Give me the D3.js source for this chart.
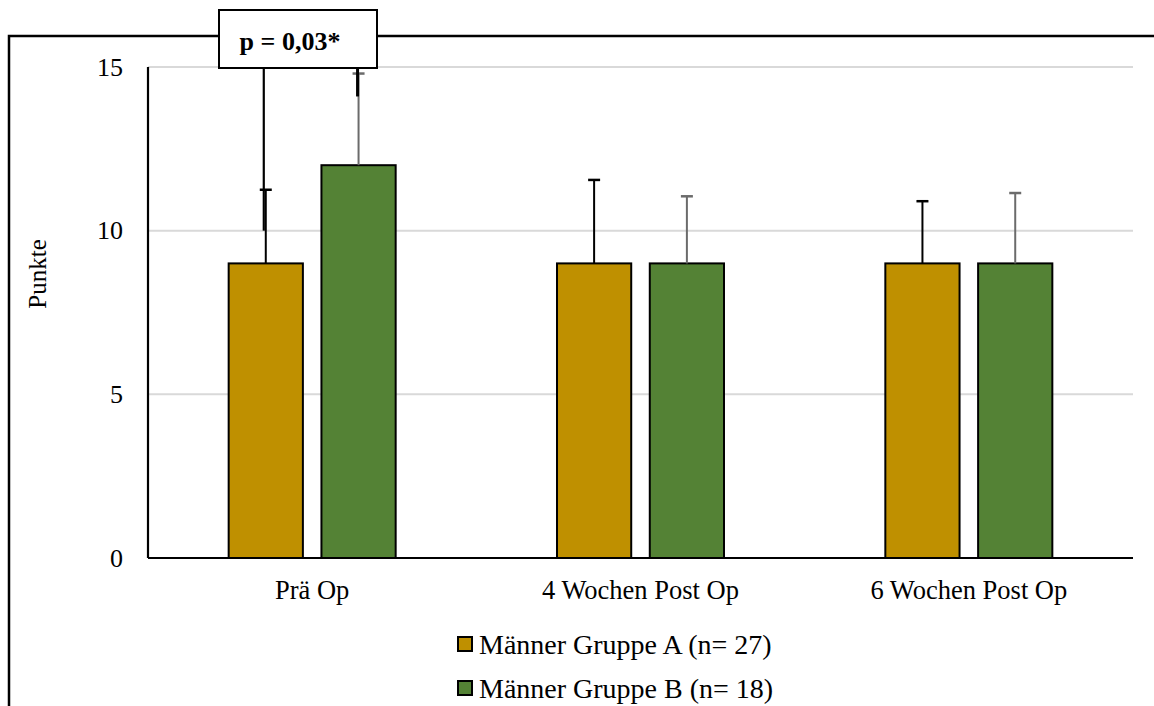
<!DOCTYPE html>
<html>
<head>
<meta charset="utf-8">
<script src="https://cdn.jsdelivr.net/npm/d3@7"></script>
<style>
  html, body { margin: 0; padding: 0; background: #fff; }
  svg { display: block; font-family: "Liberation Serif", "Times New Roman", serif; }
</style>
</head>
<body>
<svg id="chart" width="1154" height="706"></svg>
<script>
// Punkte je Zeitpunkt, Mittelwert und Standardabweichung
const categories = ["Prä Op", "4 Wochen Post Op", "6 Wochen Post Op"];
const seriesNames = ["Männer Gruppe A (n= 27)", "Männer Gruppe B (n= 18)"];
const meanA = [9, 9, 9];
const meanB = [12, 9, 9];
const sdA = [2.25, 2.55, 1.9];
const sdB = [2.8, 2.05, 2.15];
const yTicks = [0, 5, 10, 15];
const pLabel = "p = 0,03*";
// Enden der Signifikanzklammer (Punktewerte) für Prä Op
const bracketEnds = [10, 14.1];

const colors = ["#bf9000", "#548235"];
const errColors = ["#000000", "#6b6b6b"];
const FONT = "'Liberation Serif', 'Times New Roman', serif";

const svg = d3.select("#chart");

const plot = { left: 148, right: 1133, top: 67, bottom: 558 };

const y = d3.scaleLinear().domain([0, 15]).range([plot.bottom, plot.top]);
const x0 = d3.scaleBand().domain(categories).range([plot.left, plot.right]).padding(0);
const groupW = 167;
const x1 = d3.scaleBand().domain([0, 1])
  .range([(x0.bandwidth() - groupW) / 2, (x0.bandwidth() + groupW) / 2])
  .paddingInner(0.2).paddingOuter(0);

// Äußerer Rahmen
svg.append("path")
  .attr("d", "M9,706 L9,36 L1154,36")
  .attr("fill", "none").attr("stroke", "#000").attr("stroke-width", 2.5);

// Gitterlinien
svg.append("g").selectAll("line").data(yTicks.filter(d => d > 0)).join("line")
  .attr("x1", plot.left).attr("x2", plot.right)
  .attr("y1", d => y(d)).attr("y2", d => y(d))
  .attr("stroke", "#d9d9d9").attr("stroke-width", 2);

// Y-Achse
const yAxis = svg.append("g").attr("transform", `translate(${plot.left},0)`)
  .call(d3.axisLeft(y).tickValues(yTicks).tickSize(0).tickPadding(25));
yAxis.select(".domain").remove();
yAxis.selectAll("text").attr("font-size", 26).attr("fill", "#000")
  .attr("font-family", FONT);

svg.append("text")
  .attr("transform", `translate(46,274) rotate(-90)`)
  .attr("text-anchor", "middle").attr("font-size", 25).attr("fill", "#000")
  .text("Punkte");

// Balken
const data = categories.map((c, i) => ({
  cat: c,
  vals: [
    { s: 0, v: meanA[i], sd: sdA[i] },
    { s: 1, v: meanB[i], sd: sdB[i] }
  ]
}));

const groups = svg.append("g").selectAll("g").data(data).join("g")
  .attr("transform", d => `translate(${x0(d.cat)},0)`);

groups.selectAll("rect").data(d => d.vals).join("rect")
  .attr("x", d => x1(d.s)).attr("width", x1.bandwidth())
  .attr("y", d => y(d.v)).attr("height", d => y(0) - y(d.v))
  .attr("fill", d => colors[d.s]).attr("stroke", "#000").attr("stroke-width", 2);

// Fehlerbalken
const capW = 12;
groups.selectAll("g.err").data(d => d.vals).join("g").attr("class", "err")
  .each(function (d) {
    const g = d3.select(this);
    const cx = x1(d.s) + x1.bandwidth() / 2;
    g.append("line").attr("x1", cx).attr("x2", cx)
      .attr("y1", y(d.v)).attr("y2", y(d.v + d.sd))
      .attr("stroke", errColors[d.s]).attr("stroke-width", 2);
    g.append("line").attr("x1", cx - capW / 2).attr("x2", cx + capW / 2)
      .attr("y1", y(d.v + d.sd)).attr("y2", y(d.v + d.sd))
      .attr("stroke", errColors[d.s]).attr("stroke-width", 2.5);
  });

// Achsenlinien
svg.append("line")
  .attr("x1", plot.left).attr("x2", plot.right)
  .attr("y1", plot.bottom).attr("y2", plot.bottom)
  .attr("stroke", "#000").attr("stroke-width", 2.2);
svg.append("line")
  .attr("x1", plot.left).attr("x2", plot.left)
  .attr("y1", plot.top).attr("y2", plot.bottom)
  .attr("stroke", "#000").attr("stroke-width", 2.2);

svg.append("g").selectAll("text").data(categories).join("text")
  .attr("x", d => x0(d) + x0.bandwidth() / 2)
  .attr("y", 599)
  .attr("text-anchor", "middle").attr("font-size", 26.5).attr("fill", "#000")
  .text(d => d);

// Signifikanzklammer mit p-Wert
const c0 = categories[0];
const bx0 = x0(c0) + x1(0) + x1.bandwidth() / 2 - 2;
const bx1 = x0(c0) + x1(1) + x1.bandwidth() / 2 - 1;
const boxX = 219, boxY = 10, boxW = 158, boxH = 58;
svg.append("line").attr("x1", bx0).attr("x2", bx0)
  .attr("y1", boxY + boxH).attr("y2", y(bracketEnds[0]))
  .attr("stroke", "#000").attr("stroke-width", 2.2);
svg.append("line").attr("x1", bx1).attr("x2", bx1)
  .attr("y1", boxY + boxH).attr("y2", y(bracketEnds[1]))
  .attr("stroke", "#000").attr("stroke-width", 3);

svg.append("rect").attr("x", boxX).attr("y", boxY).attr("width", boxW).attr("height", boxH)
  .attr("fill", "#fff").attr("stroke", "#000").attr("stroke-width", 2);
svg.append("text").attr("x", boxX + boxW / 2 - 8).attr("y", boxY + 40)
  .attr("text-anchor", "middle").attr("font-size", 26).attr("font-weight", "bold")
  .attr("fill", "#000").text(pLabel);

// Legende
const legend = svg.append("g").selectAll("g").data(seriesNames).join("g")
  .attr("transform", (d, i) => `translate(458,${637 + i * 44})`);
legend.append("rect").attr("width", 14).attr("height", 14)
  .attr("fill", (d, i) => colors[i]).attr("stroke", "#000").attr("stroke-width", 2);
legend.append("text").attr("x", 21).attr("y", 17)
  .attr("font-size", 28).attr("fill", "#000").text(d => d);
</script>
</body>
</html>
